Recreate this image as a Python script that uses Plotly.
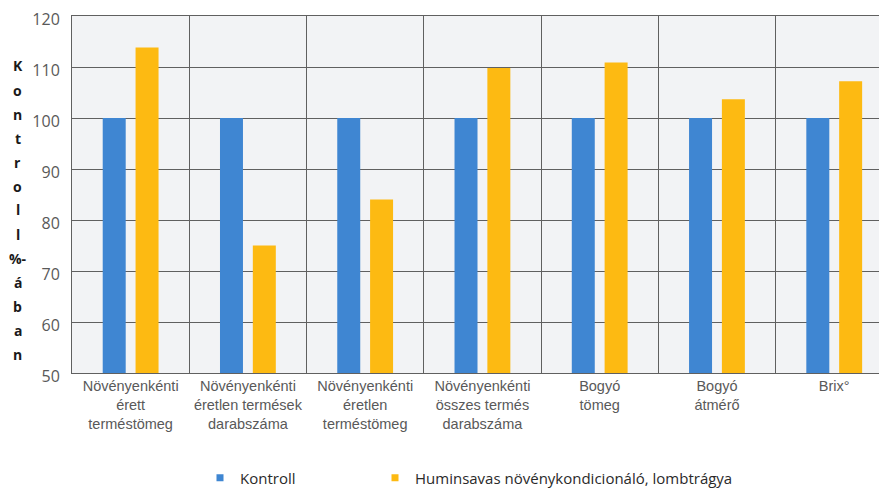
import plotly.graph_objects as go

categories = [
    "Növényenkénti<br>érett<br>terméstömeg",
    "Növényenkénti<br>éretlen termések<br>darabszáma",
    "Növényenkénti<br>éretlen<br>terméstömeg",
    "Növényenkénti<br>összes termés<br>darabszáma",
    "Bogyó<br>tömeg",
    "Bogyó<br>átmérő",
    "Brix°",
]
kontroll = [100, 100, 100, 100, 100, 100, 100]
humin = [113.8, 75, 84, 109.8, 110.9, 103.7, 107.2]
series_names = ["Kontroll", "Huminsavas növénykondicionáló, lombtrágya"]
series_colors = ["#3F86D2", "#FDBA12"]
y_title_letters = ["K", "o", "n", "t", "r", "o", "l", "l", "%-", "á", "b", "a", "n"]

fig = go.Figure()
for vals, name, col in zip([kontroll, humin], series_names, series_colors):
    fig.add_trace(go.Bar(x=categories, y=vals, name=name, showlegend=False,
                         marker=dict(color=col, line=dict(width=0))))

# legend entries with small square markers
fig.add_trace(go.Scatter(x=[None], y=[None], mode="markers", name=series_names[0],
                         marker=dict(symbol="square", size=7, color=series_colors[0]),
                         legend="legend"))
fig.add_trace(go.Scatter(x=[None], y=[None], mode="markers", name=series_names[1],
                         marker=dict(symbol="square", size=7, color=series_colors[1]),
                         legend="legend2"))

# plot area in window pixels: x 72..887, y 16..373 (page has an 8px body margin)
PL, PT, PB, PW = 72, 16, 373, 815
PH = PB - PT

# vertical letter-by-letter y-axis title
top_px, bottom_px = 66, 354
step = (bottom_px - top_px) / (len(y_title_letters) - 1)
for i, ch in enumerate(y_title_letters):
    ypx = top_px + i * step
    fig.add_annotation(text=ch, xref="paper", yref="paper",
                       x=(18 - PL) / PW, y=1 - (ypx - PT) / PH,
                       showarrow=False, xanchor="center", yanchor="middle",
                       font=dict(family="Open Sans", size=14, color="#1a1a1a", weight="bold"))

legend_font = dict(family="Open Sans", size=15, color="#2a2a2a")
leg_y = -(478 - PB) / PH
fig.update_layout(
    width=879, height=481,
    margin=dict(l=64, r=0, t=8, b=116, autoexpand=False),
    paper_bgcolor="white",
    plot_bgcolor="#f2f3f5",
    barmode="group",
    bargap=0.44,
    bargroupgap=0.3,
    showlegend=True,
    legend=dict(orientation="h", x=(200 - PL) / PW, xanchor="left", y=leg_y,
                yanchor="middle", font=legend_font, itemwidth=30,
                bgcolor="rgba(0,0,0,0)"),
    legend2=dict(orientation="h", x=(375 - PL) / PW, xanchor="left", y=leg_y,
                 yanchor="middle", font=legend_font, itemwidth=30,
                 bgcolor="rgba(0,0,0,0)"),
    xaxis=dict(range=[-0.5, 6.45], tickson="boundaries", showgrid=True,
               gridcolor="#606060", gridwidth=1, showline=True, linecolor="#606060",
               linewidth=1, mirror=True, ticks="", automargin=False,
               tickfont=dict(family="Liberation Sans", size=14.5, color="#595959")),
    yaxis=dict(range=[50, 120], dtick=10, showgrid=True, gridcolor="#606060",
               gridwidth=1, showline=True, linecolor="#606060", linewidth=1,
               ticks="", ticklabelstandoff=8, zeroline=False, automargin=False,
               ticklabeloverflow="allow", ticklabelshift=3,
               tickfont=dict(family="Open Sans", size=16, color="#595959")),
)

fig.write_html("out.html")
